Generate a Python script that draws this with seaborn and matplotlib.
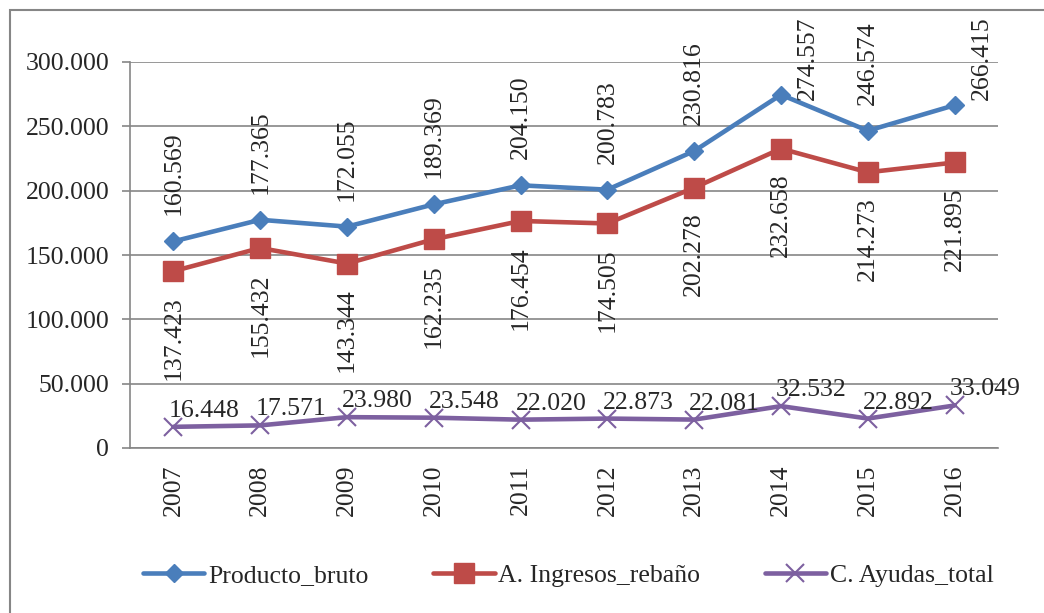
import matplotlib
matplotlib.use("Agg")
import matplotlib.pyplot as plt
import seaborn as sns
import pandas as pd
from matplotlib.patches import Rectangle

years = ['2007', '2008', '2009', '2010', '2011', '2012', '2013', '2014', '2015', '2016']
producto_bruto = [160569, 177365, 172055, 189369, 204150, 200783, 230816, 274557, 246574, 266415]
ingresos_rebano = [137423, 155432, 143344, 162235, 176454, 174505, 202278, 232658, 214273, 221895]
ayudas_total = [16448, 17571, 23980, 23548, 22020, 22873, 22081, 32532, 22892, 33049]
series_names = ['Producto_bruto', 'A. Ingresos_rebaño', 'C. Ayudas_total']
y_ticks = [0, 50000, 100000, 150000, 200000, 250000, 300000]

sns.set_style("white")
plt.rcParams['font.family'] = ['Liberation Serif', 'DejaVu Serif']
FS = 18.5
GRAY = '#868686'
BLUE = '#4A7EBB'
RED = '#BE4B48'
PURPLE = '#7D60A0'


def fmt(v):
    return f"{v:,.0f}".replace(',', '.')


W, H = 1044, 613
fig = plt.figure(figsize=(W / 100, H / 100), dpi=100)
ax = fig.add_axes([130 / W, 1 - 448 / H, (998 - 130) / W, (448 - 62) / H])

x = list(range(len(years)))
df = pd.DataFrame({'x': x, 'p': producto_bruto, 'i': ingresos_rebano, 'a': ayudas_total})

sns.lineplot(data=df, x='x', y='p', ax=ax, color=BLUE, lw=3.3, marker='D', markersize=9.5,
             markeredgewidth=1, markeredgecolor=BLUE, label=series_names[0], zorder=3)
sns.lineplot(data=df, x='x', y='i', ax=ax, color=RED, lw=3.3, marker='s', markersize=14,
             markeredgewidth=1, markeredgecolor=RED, label=series_names[1], zorder=3)
sns.lineplot(data=df, x='x', y='a', ax=ax, color=PURPLE, lw=3.3, marker='x', markersize=13,
             markeredgewidth=1.5, markeredgecolor=PURPLE, label=series_names[2], zorder=3)

ax.set_xlim(-0.5, len(years) - 0.5)
ax.set_ylim(0, 300000)
ax.set_yticks(y_ticks)
ax.set_yticklabels([fmt(v) for v in y_ticks], fontsize=FS)
ax.set_xticks(x)
ax.set_xticklabels(years, rotation=90, fontsize=FS)
ax.set_xticks([k - 0.5 for k in range(len(years) + 1)], minor=True)
ax.tick_params(axis='x', which='major', length=0, pad=12)
ax.tick_params(axis='x', which='minor', length=6, width=1.2, color=GRAY, direction='out')
ax.tick_params(axis='y', length=6, width=1.2, color=GRAY, direction='out', pad=9, left=True)
ax.set_xlabel('')
ax.set_ylabel('')
ax.grid(axis='y', color=GRAY, lw=1.2, zorder=0)
ax.grid(axis='x', visible=False)
for s in ['top', 'right']:
    ax.spines[s].set_visible(False)
for s in ['left', 'bottom']:
    ax.spines[s].set_color(GRAY)
    ax.spines[s].set_linewidth(1.2)

leg = ax.legend(ncol=3, loc='center', bbox_to_anchor=(0.505, -0.33), frameon=False,
                fontsize=FS, handlelength=2.4, handletextpad=0.15, columnspacing=2.5)

# outer chart border
fig.add_artist(Rectangle((9.5 / W, -0.1), 1.2, 1 - 9.5 / H + 0.1, transform=fig.transFigure,
                         fill=False, edgecolor=GRAY, lw=1.5, clip_on=False))

fig.canvas.draw()
renderer = fig.canvas.get_renderer()
top_limit = H - 16

for i, v in enumerate(producto_bruto):
    t = ax.annotate(fmt(v), (i, v), xytext=(0, 26), textcoords='offset pixels', rotation=90,
                    ha='center', va='bottom', fontsize=FS, annotation_clip=False)
    bb = t.get_window_extent(renderer)
    if bb.y1 > top_limit:
        off = 26 - (bb.y1 - top_limit)
        dx = 27 if off < 20 else 0
        t.xyann = (dx, off)

for i, v in enumerate(ingresos_rebano):
    ax.annotate(fmt(v), (i, v), xytext=(0, -25), textcoords='offset pixels', rotation=90,
                ha='center', va='top', fontsize=FS)

for i, v in enumerate(ayudas_total):
    ax.annotate(fmt(v), (i, v), xytext=(-5, 5), textcoords='offset pixels',
                ha='left', va='bottom', fontsize=FS)

fig.savefig('out.png', dpi=100)
